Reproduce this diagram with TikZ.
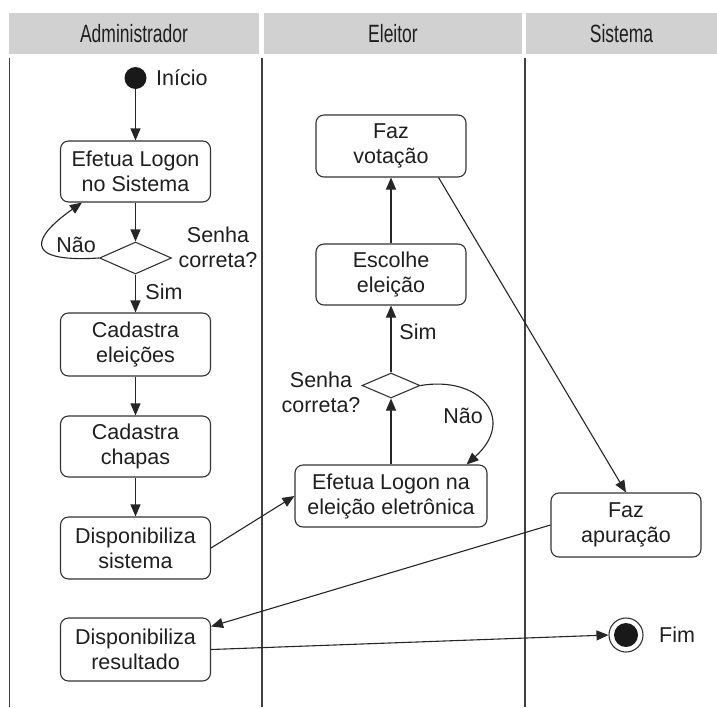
\documentclass[tikz,border=0pt]{standalone}
\usepackage{fontspec}
\setmainfont{Liberation Sans}
\newfontfamily\headfont[FakeStretch=0.7]{Liberation Sans}
\usetikzlibrary{arrows.meta,shapes.geometric,calc}
\begin{document}
\begin{tikzpicture}[x=1pt,y=-1pt,
  every node/.style={font=\fontsize{21.5}{25}\selectfont, text=black!88},
  act/.style={draw=black!80, line width=1.1pt, rounded corners=8pt, align=center, inner sep=0pt, minimum width=150pt},
  dec/.style={draw=black!80, line width=1.1pt, diamond, inner sep=0pt},
  flow/.style={draw=black!85, line width=1.1pt, -{Triangle[length=12pt,width=10pt]}},
  lane/.style={draw=black!75, line width=1.4pt},
  head/.style={fill=black!18, minimum height=41pt, inner sep=0pt, font=\headfont\fontsize{25}{27}\selectfont},
  lbl/.style={inner sep=0pt, align=center}
]
\useasboundingbox (0,0) rectangle (717,707);
\fill[white] (0,0) rectangle (717,707);

% headers
\node[head, minimum width=250pt] (hA) at (134,33.5) {Administrador};
\node[head, minimum width=258pt] (hE) at (393,33.5) {Eleitor};
\node[head, minimum width=191pt] (hS) at (621.5,33.5) {Sistema};

% lanes
\draw[lane] (9.5,58) -- (9.5,707);
\draw[lane] (262,58) -- (262,707);
\draw[lane] (525,58) -- (525,707);

% Administrador
\node[circle, fill=black!90, minimum size=22pt, inner sep=0pt] (start) at (135.5,78) {};
\node[lbl, anchor=west] (startl) at (156,78) {Início};
\node[act, minimum height=61pt] (b1) at (135.5,171.5) {Efetua Logon\\no Sistema};
\node[dec, minimum width=72pt, minimum height=32pt] (d1) at (135.5,258) {};
\node[lbl] (d1l) at (218,247.5) {Senha\\correta?};
\node[lbl] (nao1) at (76,245) {Não};
\node[lbl] (sim1) at (164,292) {Sim};
\node[act, minimum height=63pt] (b2) at (135.5,344.5) {Cadastra\\eleições};
\node[act, minimum height=61pt] (b3) at (135.5,446.5) {Cadastra\\chapas};
\node[act, minimum height=62pt] (b4) at (135.5,548) {Disponibiliza\\sistema};
\node[act, minimum height=63pt] (b5) at (135.5,649.5) {Disponibiliza\\resultado};

% Eleitor
\node[act, minimum height=62pt] (fv) at (391,146) {Faz\\votação};
\node[act, minimum height=61pt] (esc) at (391,274.5) {Escolhe\\eleição};
\node[dec, minimum width=58pt, minimum height=25pt] (d2) at (391,385.5) {};
\node[lbl] (d2l) at (321,392) {Senha\\correta?};
\node[lbl] (nao2) at (463,416) {Não};
\node[lbl] (sim2) at (418,332) {Sim};
\node[act, minimum width=192pt, minimum height=62pt] (el) at (391,496) {Efetua Logon na\\eleição eletrônica};

% Sistema
\node[act, minimum height=64pt] (fa) at (626,525) {Faz\\apuração};
\node[circle, draw=black!80, line width=1.1pt, minimum size=34pt, inner sep=0pt] (fim) at (626,635) {};
\node[circle, fill=black!90, minimum size=24pt, inner sep=0pt] (fimin) at (626,635) {};
\node[lbl, anchor=west] (fiml) at (659,635) {Fim};

% connectors
\draw[flow] (start) -- (b1);
\draw[flow] (b1) -- (d1);
\draw[flow] (d1.west) .. controls +(-80,5) and +(-47,33) .. ($(b1.south west)+(22,0)$);
\draw[flow] (d1) -- (b2);
\draw[flow] (b2) -- (b3);
\draw[flow] (b3) -- (b4);
\draw[flow] (b4.east) -- (el.west);
\draw[flow] (el) -- (d2);
\draw[flow] (d2.east) .. controls +(60,-10) and +(50,-45) .. ($(el.north east)+(-21,0)$);
\draw[flow] (d2) -- (esc);
\draw[flow] (esc) -- (fv);
\draw[flow] ($(fv.south east)+(-28,0)$) -- (fa.north);
\draw[flow] (fa.west) -- ($(b5.north east)+(0,9)$);
\draw[flow] (b5.east) -- (fim.west);
\end{tikzpicture}
\end{document}
